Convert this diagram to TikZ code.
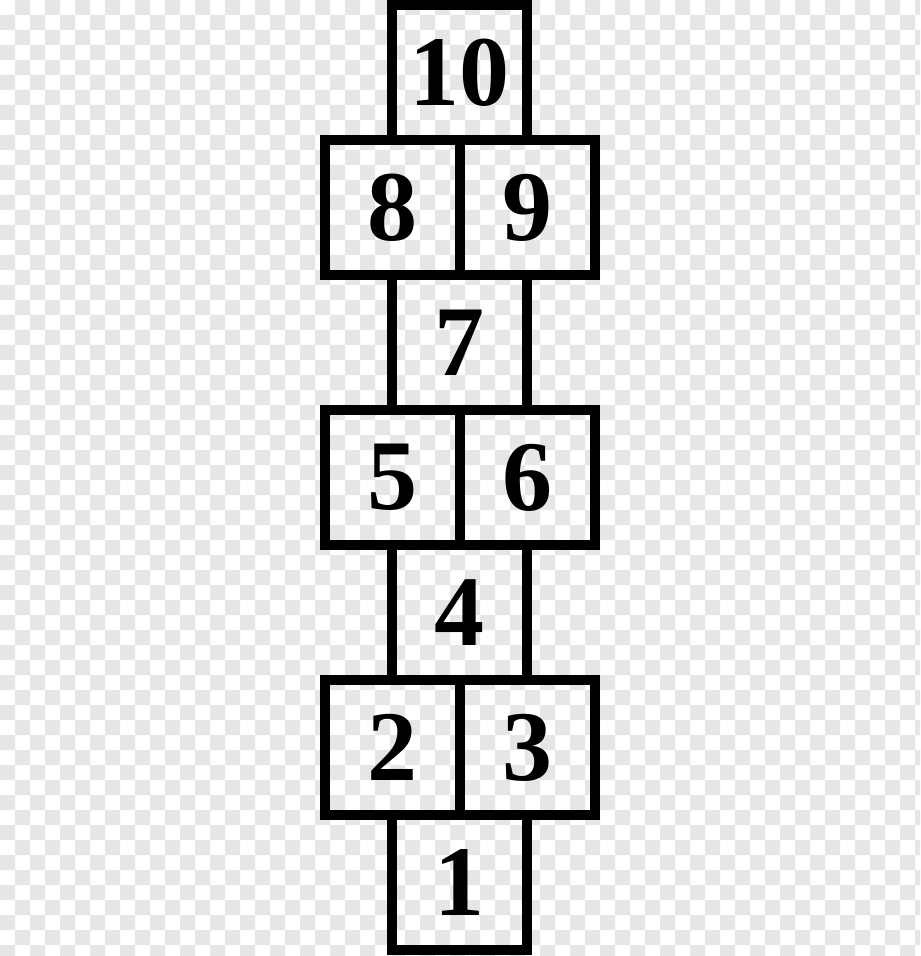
\documentclass[tikz,border=0pt]{standalone}
\usepackage{fontspec}
\setmainfont{Liberation Serif}
\usepackage{tikz}
\usetikzlibrary{positioning}
\definecolor{checkGray}{HTML}{E6E6E6}
\definecolor{lineInk}{HTML}{000000}

\begin{document}
\begin{tikzpicture}[
    x=0.5pt, y=-0.5pt,
    cell/.style={rectangle, draw=lineInk, line width=5pt, minimum width=67.5pt,
                 minimum height=67.5pt, inner sep=0pt, text=lineInk,
                 font=\fontsize{50}{50}\selectfont\bfseries},
    checker/.style={fill=checkGray},
]
    \useasboundingbox (0,0) rectangle (920,956);
    % transparency checkerboard
    \begin{scope}
        \clip (0,0) rectangle (920,956);
        \fill[white] (0,0) rectangle (920,956);
        \fill[checker] \foreach \i in {0,2,...,60} {\foreach \j in {1,3,...,63} {(\i*15,\j*15) rectangle ++(15,15)}};
        \fill[checker] \foreach \i in {1,3,...,61} {\foreach \j in {0,2,...,62} {(\i*15,\j*15) rectangle ++(15,15)}};
    \end{scope}

    \node[cell] (c10) at (459.5,72.5) {10};
    \node[cell] (c8) at (392,207.5) {8};
    \node[cell] (c9) at (527,207.5) {9};
    \node[cell] (c7) at (459.5,342.5) {7};
    \node[cell] (c5) at (392,477.5) {5};
    \node[cell] (c6) at (527,477.5) {6};
    \node[cell] (c4) at (459.5,612.5) {4};
    \node[cell] (c2) at (392,747.5) {2};
    \node[cell] (c3) at (527,747.5) {3};
    \node[cell] (c1) at (459.5,882.5) {1};
\end{tikzpicture}
\end{document}
